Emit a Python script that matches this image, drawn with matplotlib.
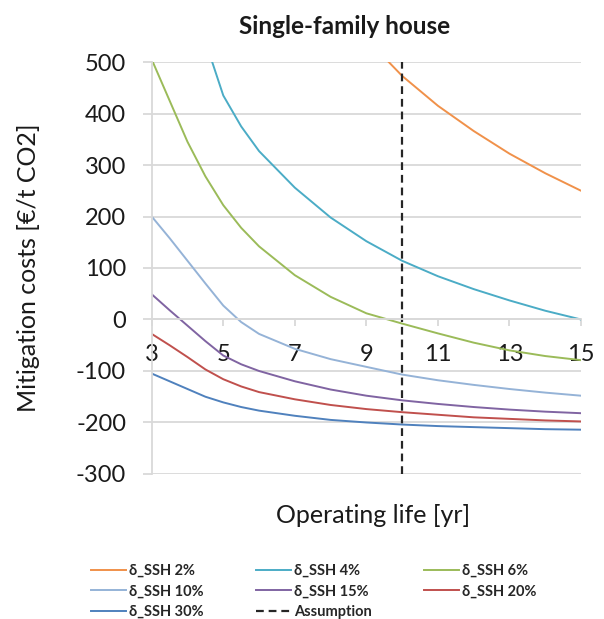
import matplotlib.pyplot as plt
import numpy as np

plt.rcParams['font.family'] = ['Lato', 'DejaVu Sans']
plt.rcParams['axes.unicode_minus'] = False

# operating life [yr]
years = [3, 3.5, 4, 4.5, 5, 5.5, 6, 7, 8, 9, 10, 11, 12, 13, 14, 15]
nan = np.nan

# mitigation costs [EUR/t CO2] per SSH share
ssh_2 = [nan, nan, nan, nan, nan, nan, nan, nan, nan, 545, 473, 415, 366, 322, 284, 250]
ssh_4 = [nan, nan, 650, 540, 435, 375, 327, 256, 198, 152, 114, 84, 59, 37, 17, 0]
ssh_6 = [505, 425, 345, 278, 222, 178, 142, 86, 44, 12, -8, -27, -45, -60, -71, -79]
ssh_10 = [200, 158, 114, 70, 27, -5, -28, -57, -77, -92, -107, -118, -127, -135, -142, -148]
ssh_15 = [49, 18, -12, -42, -70, -87, -100, -120, -136, -148, -157, -164, -170, -175, -179, -182]
ssh_20 = [-28, -50, -73, -97, -116, -130, -141, -155, -166, -174, -180, -185, -190, -193, -196, -198]
ssh_30 = [-105, -120, -135, -150, -161, -170, -177, -187, -195, -200, -204, -207, -209, -211, -213, -214]

assumption = 10

series = [
    ('δ_SSH 2%', ssh_2, '#F0914A'),
    ('δ_SSH 4%', ssh_4, '#4BACC6'),
    ('δ_SSH 6%', ssh_6, '#9BBB59'),
    ('δ_SSH 10%', ssh_10, '#95B3D7'),
    ('δ_SSH 15%', ssh_15, '#8064A2'),
    ('δ_SSH 20%', ssh_20, '#C0504D'),
    ('δ_SSH 30%', ssh_30, '#4F81BD'),
]

grid_col = '#D9D9D9'
text_col = '#1a1a1a'

fig = plt.figure(figsize=(6.04, 6.19), dpi=100)
ax = fig.add_axes([0.2512, 0.2343, 0.7108, 0.6655])

handles = {}
for name, vals, col in series:
    h, = ax.plot(years, vals, color=col, lw=1.4, label=name)
    handles[name] = h
dash = ax.axvline(assumption, color='#262626', lw=1.6, linestyle=(0, (3.5, 2.2)),
                  label='Assumption')
handles['Assumption'] = dash

ax.set_xlim(3, 15)
ax.set_ylim(-300, 500)
ax.set_xticks(np.arange(3, 16, 2))
ax.set_yticks(np.arange(-300, 501, 100))
ax.yaxis.grid(True, color=grid_col, lw=1.3)
ax.set_axisbelow(True)

for s in ['top', 'right']:
    ax.spines[s].set_visible(False)
ax.spines['bottom'].set_position(('data', 0))
ax.spines['bottom'].set_color(grid_col)
ax.spines['bottom'].set_linewidth(1.3)
ax.spines['left'].set_color(grid_col)
ax.spines['left'].set_linewidth(1.3)

ax.tick_params(axis='x', direction='out', length=5, width=1.3, color=grid_col,
               labelsize=17, pad=13, labelcolor=text_col)
ax.tick_params(axis='y', direction='out', length=6.5, width=1.3, color=grid_col,
               labelsize=17, pad=12, labelcolor=text_col)

ax.set_xlabel('Operating life [yr]', fontsize=18, color=text_col)
ax.xaxis.set_label_coords(0.515, -0.072)
ax.set_ylabel('Mitigation costs [€/t CO2]', fontsize=18, color=text_col)
ax.yaxis.set_label_coords(-0.26, 0.5)

fig.text(345 / 604, 1 - 27 / 619, 'Single-family house', fontsize=17.5, fontweight='bold',
         ha='center', va='center', color=text_col)

order = ['δ_SSH 2%', 'δ_SSH 10%', 'δ_SSH 30%', 'δ_SSH 4%', 'δ_SSH 15%', 'Assumption',
         'δ_SSH 6%', 'δ_SSH 20%']
leg = fig.legend([handles[k] for k in order], order, ncol=3, loc='upper left',
                 bbox_to_anchor=(91 / 604, 1 - 564 / 619), frameon=False,
                 prop={'size': 10.5, 'weight': 'bold'}, handlelength=2.4,
                 handletextpad=0.2, columnspacing=3.6, labelspacing=0.45,
                 borderpad=0, borderaxespad=0)
for t in leg.get_texts():
    t.set_color('#262626')

fig.savefig('out.png', dpi=100)
